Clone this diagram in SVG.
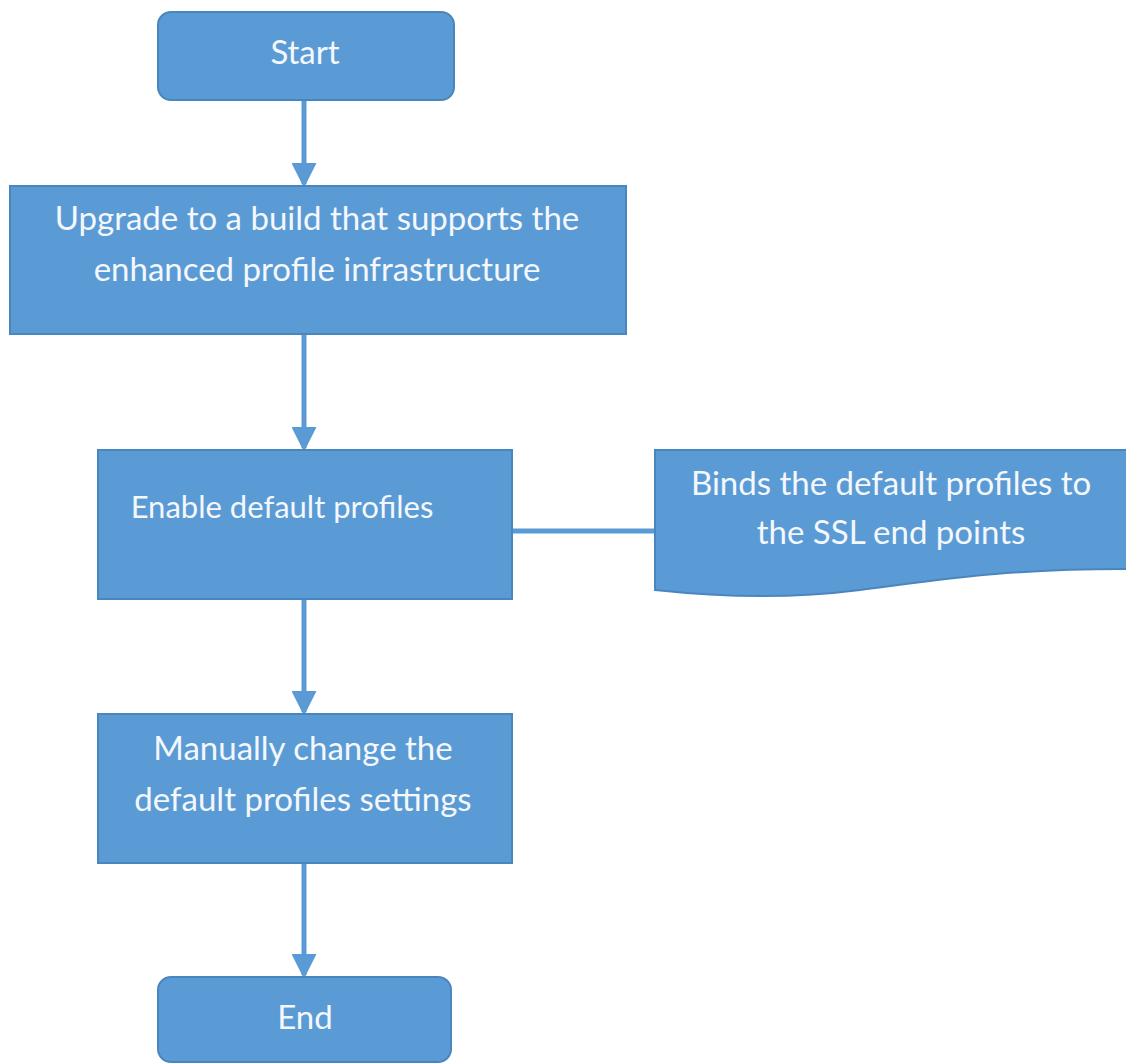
<svg xmlns="http://www.w3.org/2000/svg" width="1126" height="1064" viewBox="0 0 1126 1064">
<style>
.n{fill:#5B9BD5;stroke:#4A86BE;stroke-width:2}
.t{font-family:Lato,"Open Sans",sans-serif;font-size:33px;fill:#F4F7FB;text-anchor:middle}
.c{stroke:#5B9BD5;stroke-width:5;fill:none}
</style>
<defs>
<marker id="ah" markerWidth="5" markerHeight="5" refX="4.2" refY="2.5" orient="auto" markerUnits="strokeWidth" viewBox="0 0 5 5">
<path d="M0,0 L5,2.5 L0,5 Z" fill="#5B9BD5"/>
</marker>
</defs>
<rect width="1126" height="1064" fill="#FFFFFF"/>
<g id="connectors">
<line class="c" x1="304" y1="100" x2="304" y2="184" marker-end="url(#ah)"/>
<line class="c" x1="304" y1="334" x2="304" y2="448" marker-end="url(#ah)"/>
<line class="c" x1="304" y1="599" x2="304" y2="712" marker-end="url(#ah)"/>
<line class="c" x1="304" y1="863" x2="304" y2="975" marker-end="url(#ah)"/>
<line class="c" x1="512" y1="531" x2="655" y2="531"/>
</g>
<g id="start">
<rect class="n" x="158" y="12" width="296" height="88" rx="13"/>
<text class="t" x="305" y="64">Start</text>
</g>
<g id="upgrade">
<rect class="n" x="10" y="186" width="616" height="148"/>
<text class="t" x="317" y="230">Upgrade to a build that supports the</text>
<text class="t" x="317" y="281">enhanced profile infrastructure</text>
</g>
<g id="enable">
<rect class="n" x="98" y="450" width="414" height="149"/>
<text class="t" x="282" y="518" style="font-size:31px">Enable default profiles</text>
</g>
<g id="binds">
<path class="n" d="M655,450 L1127,450 L1127,569 C1000,569 940,580 860,590 C790,599 720,597 655,590 Z"/>
<text class="t" x="891" y="495">Binds the default profiles to</text>
<text class="t" x="891" y="544">the SSL end points</text>
</g>
<g id="manual">
<rect class="n" x="98" y="714" width="414" height="149"/>
<text class="t" x="303" y="760">Manually change the</text>
<text class="t" x="303" y="811">default profiles settings</text>
</g>
<g id="end">
<rect class="n" x="158" y="977" width="293" height="85" rx="13"/>
<text class="t" x="305" y="1029">End</text>
</g>
</svg>
